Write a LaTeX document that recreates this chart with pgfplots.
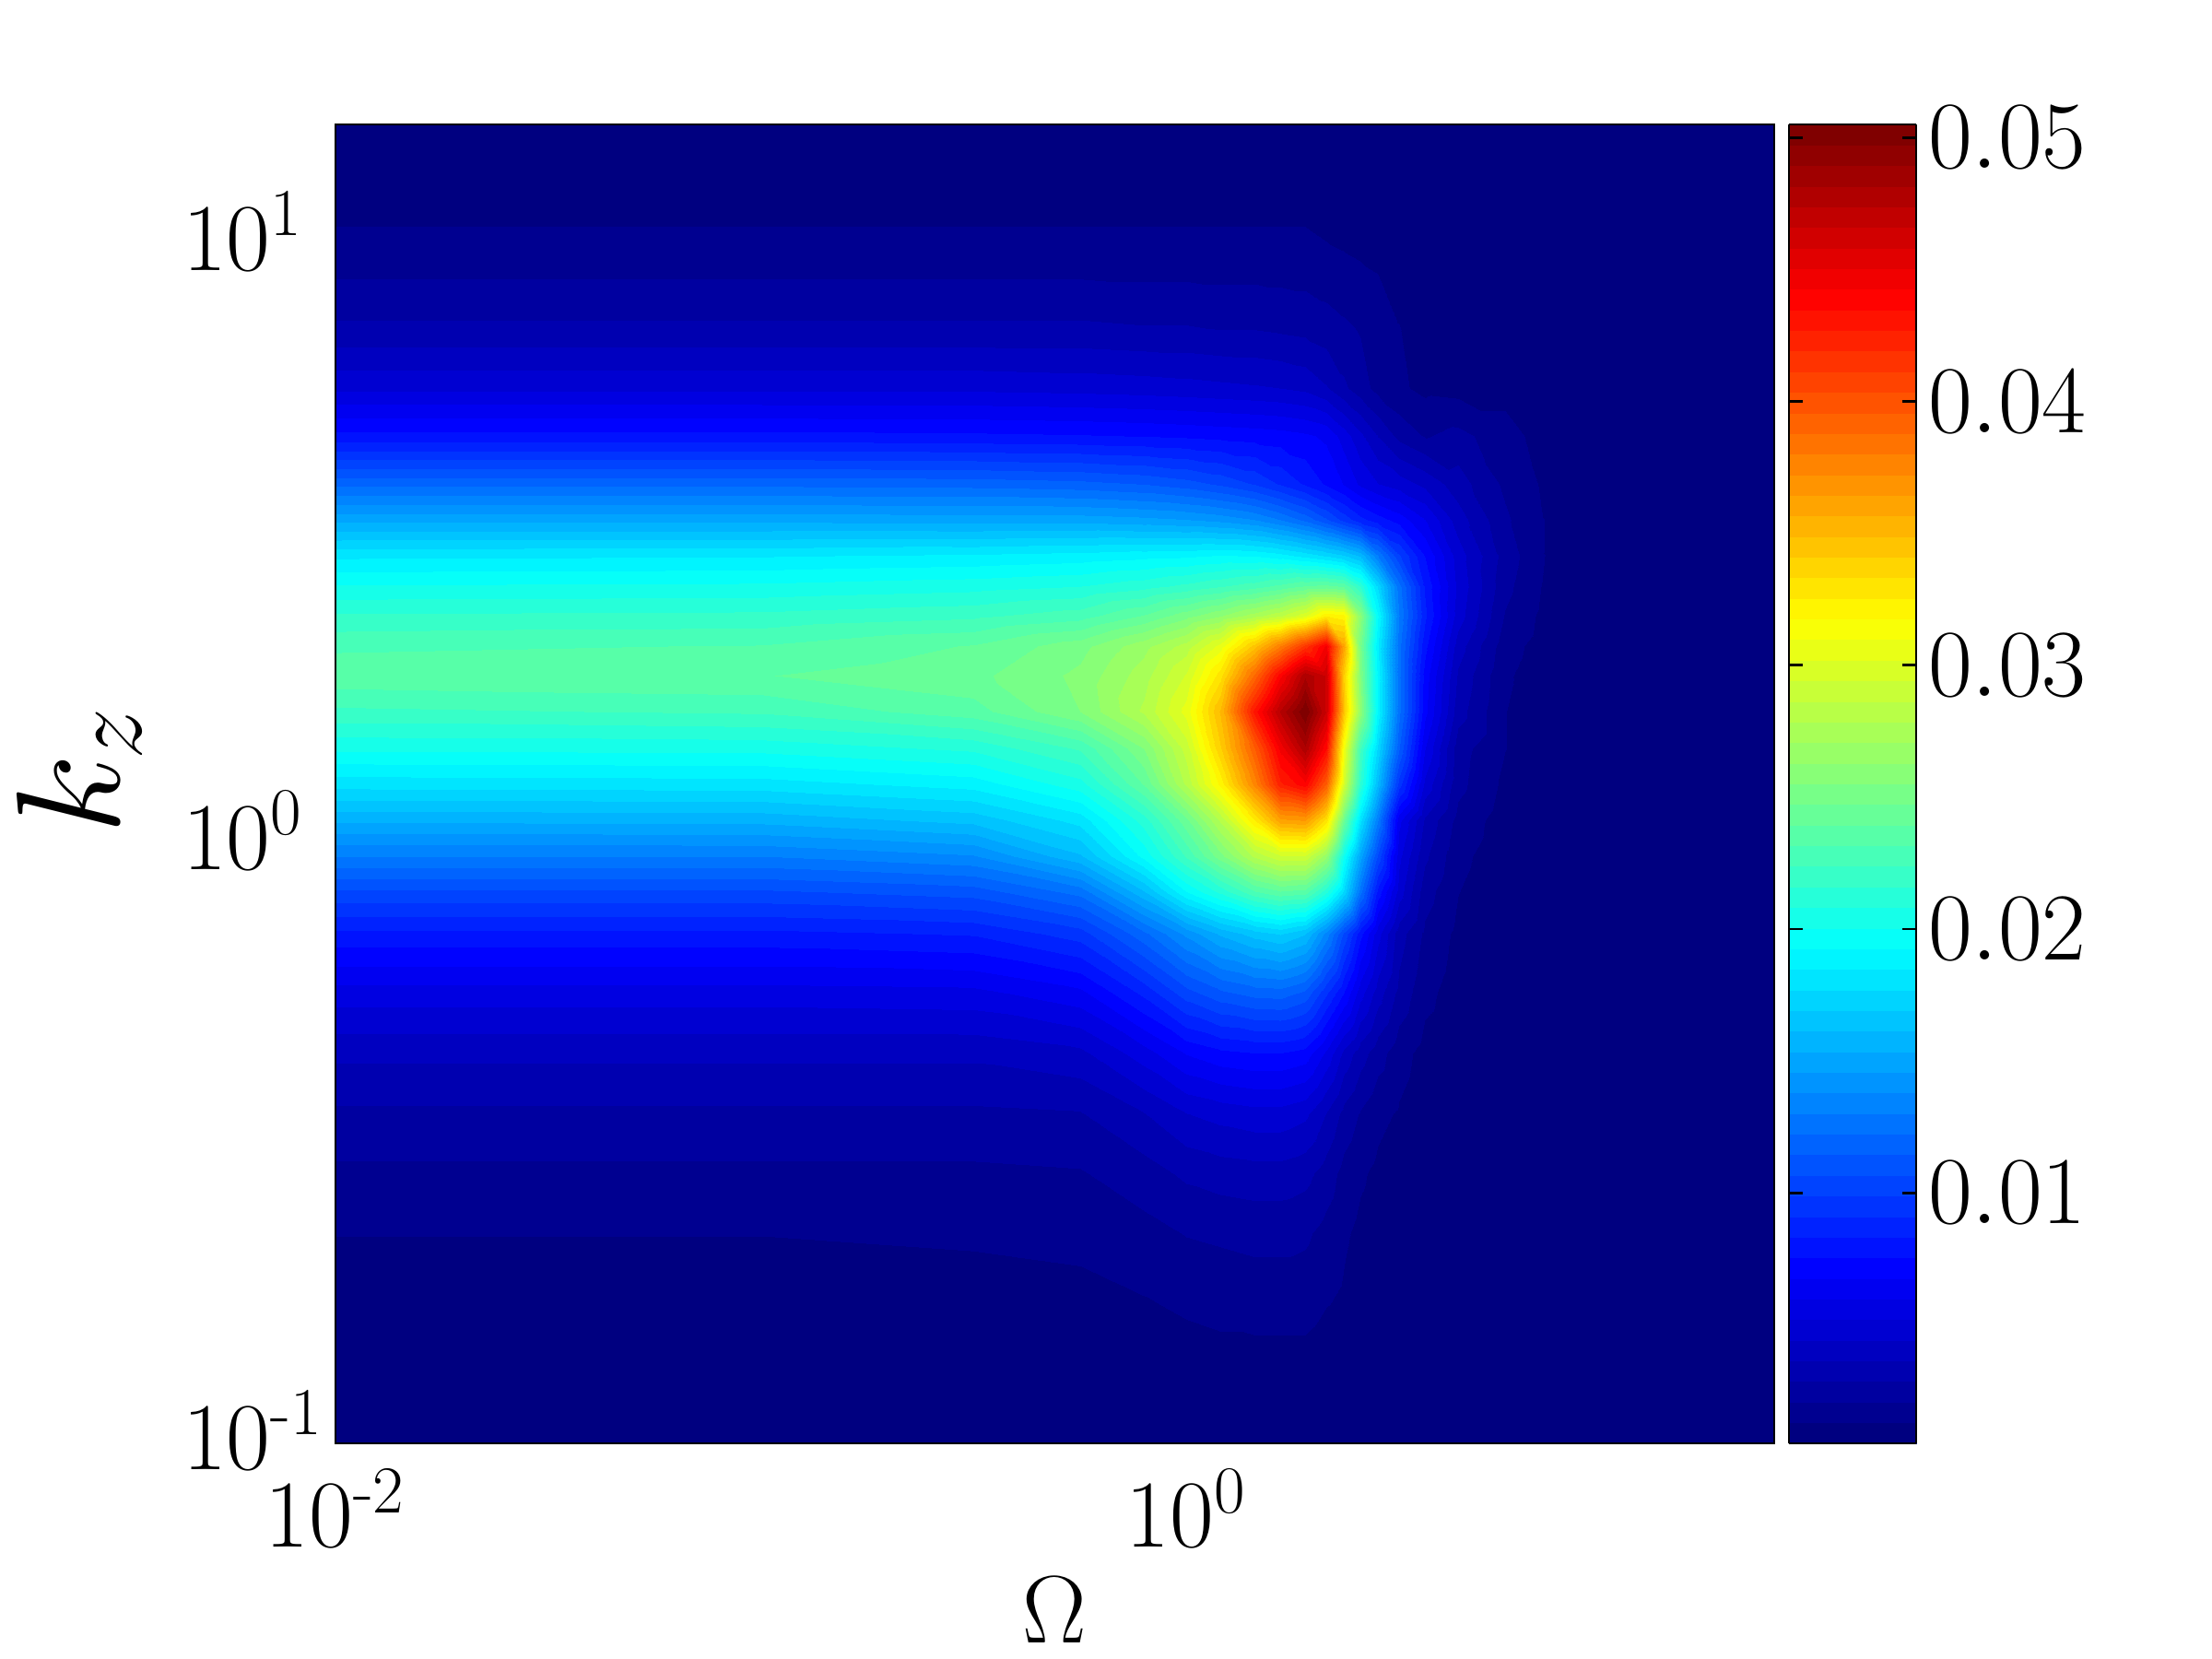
\IfFileExists{fix-cm.sty}{\RequirePackage{fix-cm}}{}
\documentclass[border=0pt]{standalone}
\usepackage{pgfplots}
\pgfplotsset{compat=1.18}
\pgfplotsset{colormap/jet, colormap={jet64}{samples of colormap=(64 of jet)}}
\newcommand\hy{\mbox{\fontsize{18pt}{20pt}\selectfont -}}
\begin{document}
\begin{tikzpicture}
\useasboundingbox (-91pt,-58.5pt) rectangle (509pt,391.5pt);
\begin{axis}[
  at={(0pt,0pt)}, anchor=south west, scale only axis,
  width=390.25pt, height=357.75pt,
  xmode=log, ymode=log,
  xmin=0.01, xmax=24.1, ymin=0.1, ymax=15.85,
  xtick={0.01,1}, xticklabels={$10^{\hy 2}$,$10^{0}$},
  ytick={0.1,1,10}, yticklabels={$10^{\hy 1}$,$10^{0}$,$10^{1}$},
  minor tick num=0, xminorticks=false, yminorticks=false,
  major tick length=0pt,
  axis line style={line width=0.7pt},
  axis on top,
  tick label style={font=\fontsize{26}{31}\selectfont},
  yticklabel style={anchor=base west, xshift=-45pt, yshift=-7pt},
  xticklabel style={yshift=-3.5pt},
  xlabel={$\Omega$}, ylabel={$k_z$},
  xlabel style={font=\fontsize{26}{31}\selectfont, at={(axis description cs:0.5,-0.0915)}, anchor=north},
  ylabel style={font=\fontsize{40}{48}\selectfont, at={(axis description cs:-0.178,0.51)}, anchor=center},
  colormap name=jet64,
  colormap access=piecewise constant,
  point meta min=0.0005, point meta max=0.0505,
  colorbar,
  colorbar style={
    at={(1.0103,1)}, anchor=north west,
    width=34.5pt,
    ytick={0.01,0.02,0.03,0.04,0.05},
    yticklabels={$0.01$,$0.02$,$0.03$,$0.04$,$0.05$},
    scaled y ticks=false,
    ytick pos=both, yticklabel pos=right, ytick align=inside,
    major tick length=3.75pt,
    axis line style={line width=0.7pt},
    tick style={draw=black, line width=0.7pt},
    tick label style={font=\fontsize{26}{31}\selectfont},
    yticklabel style={xshift=-0.3pt},
  },
]
\addplot[surf, shader=interp, mesh/cols=20, mesh/rows=27, point meta=explicit] coordinates {
(0.01,0.1)[0.0005] (0.1,0.1)[0.0005] (0.3162,0.1)[0.0005] (0.5623,0.1)[0.0005] (0.7943,0.1)[0.0005] (1,0.1)[0.0005] (1.2023,0.1)[0.0005] (1.4454,0.1)[0.0005] (1.6596,0.1)[0.0005] (1.9055,0.1)[0.0005] (2.138,0.1)[0.0005] (2.3442,0.1)[0.0005] (2.5704,0.1)[0.0005] (2.8184,0.1)[0.0005] (3.1623,0.1)[0.0005] (3.6308,0.1)[0.0005] (4.3652,0.1)[0.0005] (5.6234,0.1)[0.0005] (7.0795,0.1)[0.0005] (24.547,0.1)[0.0005]
(0.01,0.14125)[0.0008] (0.1,0.14125)[0.0008] (0.3162,0.14125)[0.0008] (0.5623,0.14125)[0.0008] (0.7943,0.14125)[0.0009] (1,0.14125)[0.0010] (1.2023,0.14125)[0.0011] (1.4454,0.14125)[0.0011] (1.6596,0.14125)[0.0011] (1.9055,0.14125)[0.0011] (2.138,0.14125)[0.0009] (2.3442,0.14125)[0.0008] (2.5704,0.14125)[0.0007] (2.8184,0.14125)[0.0006] (3.1623,0.14125)[0.0006] (3.6308,0.14125)[0.0005] (4.3652,0.14125)[0.0005] (5.6234,0.14125)[0.0005] (7.0795,0.14125)[0.0005] (24.547,0.14125)[0.0005]
(0.01,0.17783)[0.0010] (0.1,0.17783)[0.0010] (0.3162,0.17783)[0.0010] (0.5623,0.17783)[0.0011] (0.7943,0.17783)[0.0013] (1,0.17783)[0.0015] (1.2023,0.17783)[0.0016] (1.4454,0.17783)[0.0017] (1.6596,0.17783)[0.0017] (1.9055,0.17783)[0.0017] (2.138,0.17783)[0.0014] (2.3442,0.17783)[0.0012] (2.5704,0.17783)[0.0009] (2.8184,0.17783)[0.0007] (3.1623,0.17783)[0.0006] (3.6308,0.17783)[0.0005] (4.3652,0.17783)[0.0005] (5.6234,0.17783)[0.0005] (7.0795,0.17783)[0.0005] (24.547,0.17783)[0.0005]
(0.01,0.22387)[0.0013] (0.1,0.22387)[0.0013] (0.3162,0.22387)[0.0014] (0.5623,0.22387)[0.0015] (0.7943,0.22387)[0.0018] (1,0.22387)[0.0021] (1.2023,0.22387)[0.0022] (1.4454,0.22387)[0.0023] (1.6596,0.22387)[0.0023] (1.9055,0.22387)[0.0022] (2.138,0.22387)[0.0018] (2.3442,0.22387)[0.0014] (2.5704,0.22387)[0.0011] (2.8184,0.22387)[0.0009] (3.1623,0.22387)[0.0007] (3.6308,0.22387)[0.0006] (4.3652,0.22387)[0.0005] (5.6234,0.22387)[0.0005] (7.0795,0.22387)[0.0005] (24.547,0.22387)[0.0005]
(0.01,0.28184)[0.0019] (0.1,0.28184)[0.0019] (0.3162,0.28184)[0.0019] (0.5623,0.28184)[0.0020] (0.7943,0.28184)[0.0025] (1,0.28184)[0.0030] (1.2023,0.28184)[0.0032] (1.4454,0.28184)[0.0033] (1.6596,0.28184)[0.0033] (1.9055,0.28184)[0.0031] (2.138,0.28184)[0.0025] (2.3442,0.28184)[0.0018] (2.5704,0.28184)[0.0014] (2.8184,0.28184)[0.0011] (3.1623,0.28184)[0.0008] (3.6308,0.28184)[0.0006] (4.3652,0.28184)[0.0005] (5.6234,0.28184)[0.0005] (7.0795,0.28184)[0.0005] (24.547,0.28184)[0.0005]
(0.01,0.35481)[0.0027] (0.1,0.35481)[0.0027] (0.3162,0.35481)[0.0027] (0.5623,0.35481)[0.0028] (0.7943,0.35481)[0.0036] (1,0.35481)[0.0044] (1.2023,0.35481)[0.0047] (1.4454,0.35481)[0.0049] (1.6596,0.35481)[0.0049] (1.9055,0.35481)[0.0046] (2.138,0.35481)[0.0036] (2.3442,0.35481)[0.0026] (2.5704,0.35481)[0.0020] (2.8184,0.35481)[0.0015] (3.1623,0.35481)[0.0012] (3.6308,0.35481)[0.0008] (4.3652,0.35481)[0.0006] (5.6234,0.35481)[0.0005] (7.0795,0.35481)[0.0005] (24.547,0.35481)[0.0005]
(0.01,0.44668)[0.0038] (0.1,0.44668)[0.0038] (0.3162,0.44668)[0.0038] (0.5623,0.44668)[0.0042] (0.7943,0.44668)[0.0056] (1,0.44668)[0.0068] (1.2023,0.44668)[0.0073] (1.4454,0.44668)[0.0075] (1.6596,0.44668)[0.0075] (1.9055,0.44668)[0.0072] (2.138,0.44668)[0.0058] (2.3442,0.44668)[0.0042] (2.5704,0.44668)[0.0032] (2.8184,0.44668)[0.0024] (3.1623,0.44668)[0.0016] (3.6308,0.44668)[0.0010] (4.3652,0.44668)[0.0007] (5.6234,0.44668)[0.0006] (7.0795,0.44668)[0.0005] (24.547,0.44668)[0.0005]
(0.01,0.56234)[0.0056] (0.1,0.56234)[0.0056] (0.3162,0.56234)[0.0057] (0.5623,0.56234)[0.0065] (0.7943,0.56234)[0.0085] (1,0.56234)[0.0103] (1.2023,0.56234)[0.0112] (1.4454,0.56234)[0.0117] (1.6596,0.56234)[0.0118] (1.9055,0.56234)[0.0112] (2.138,0.56234)[0.0092] (2.3442,0.56234)[0.0075] (2.5704,0.56234)[0.0055] (2.8184,0.56234)[0.0040] (3.1623,0.56234)[0.0026] (3.6308,0.56234)[0.0015] (4.3652,0.56234)[0.0009] (5.6234,0.56234)[0.0006] (7.0795,0.56234)[0.0005] (24.547,0.56234)[0.0005]
(0.01,0.70795)[0.0081] (0.1,0.70795)[0.0081] (0.3162,0.70795)[0.0084] (0.5623,0.70795)[0.0095] (0.7943,0.70795)[0.0120] (1,0.70795)[0.0140] (1.2023,0.70795)[0.0155] (1.4454,0.70795)[0.0165] (1.6596,0.70795)[0.0170] (1.9055,0.70795)[0.0162] (2.138,0.70795)[0.0135] (2.3442,0.70795)[0.0105] (2.5704,0.70795)[0.0078] (2.8184,0.70795)[0.0055] (3.1623,0.70795)[0.0032] (3.6308,0.70795)[0.0019] (4.3652,0.70795)[0.0011] (5.6234,0.70795)[0.0006] (7.0795,0.70795)[0.0005] (24.547,0.70795)[0.0005]
(0.01,0.83176)[0.0105] (0.1,0.83176)[0.0105] (0.3162,0.83176)[0.0110] (0.5623,0.83176)[0.0125] (0.7943,0.83176)[0.0160] (1,0.83176)[0.0192] (1.2023,0.83176)[0.0210] (1.4454,0.83176)[0.0230] (1.6596,0.83176)[0.0238] (1.9055,0.83176)[0.0235] (2.138,0.83176)[0.0210] (2.3442,0.83176)[0.0175] (2.5704,0.83176)[0.0125] (2.8184,0.83176)[0.0080] (3.1623,0.83176)[0.0048] (3.6308,0.83176)[0.0024] (4.3652,0.83176)[0.0013] (5.6234,0.83176)[0.0007] (7.0795,0.83176)[0.0006] (24.547,0.83176)[0.0005]
(0.01,0.95499)[0.0130] (0.1,0.95499)[0.0130] (0.3162,0.95499)[0.0137] (0.5623,0.95499)[0.0160] (0.7943,0.95499)[0.0195] (1,0.95499)[0.0225] (1.2023,0.95499)[0.0252] (1.4454,0.95499)[0.0280] (1.6596,0.95499)[0.0293] (1.9055,0.95499)[0.0293] (2.138,0.95499)[0.0265] (2.3442,0.95499)[0.0200] (2.5704,0.95499)[0.0150] (2.8184,0.95499)[0.0105] (3.1623,0.95499)[0.0054] (3.6308,0.95499)[0.0030] (4.3652,0.95499)[0.0015] (5.6234,0.95499)[0.0008] (7.0795,0.95499)[0.0006] (24.547,0.95499)[0.0005]
(0.01,1.0965)[0.0155] (0.1,1.0965)[0.0156] (0.3162,1.0965)[0.0164] (0.5623,1.0965)[0.0180] (0.7943,1.0965)[0.0212] (1,1.0965)[0.0245] (1.2023,1.0965)[0.0280] (1.4454,1.0965)[0.0325] (1.6596,1.0965)[0.0362] (1.9055,1.0965)[0.0365] (2.138,1.0965)[0.0330] (2.3442,1.0965)[0.0245] (2.5704,1.0965)[0.0180] (2.8184,1.0965)[0.0130] (3.1623,1.0965)[0.0062] (3.6308,1.0965)[0.0035] (4.3652,1.0965)[0.0018] (5.6234,1.0965)[0.0009] (7.0795,1.0965)[0.0006] (24.547,1.0965)[0.0005]
(0.01,1.2589)[0.0180] (0.1,1.2589)[0.0181] (0.3162,1.2589)[0.0188] (0.5623,1.2589)[0.0205] (0.7943,1.2589)[0.0240] (1,1.2589)[0.0280] (1.2023,1.2589)[0.0320] (1.4454,1.2589)[0.0375] (1.6596,1.2589)[0.0425] (1.9055,1.2589)[0.0440] (2.138,1.2589)[0.0395] (2.3442,1.2589)[0.0295] (2.5704,1.2589)[0.0215] (2.8184,1.2589)[0.0160] (3.1623,1.2589)[0.0095] (3.6308,1.2589)[0.0050] (4.3652,1.2589)[0.0023] (5.6234,1.2589)[0.0011] (7.0795,1.2589)[0.0007] (24.547,1.2589)[0.0005]
(0.01,1.4454)[0.0202] (0.1,1.4454)[0.0203] (0.3162,1.4454)[0.0210] (0.5623,1.4454)[0.0225] (0.7943,1.4454)[0.0255] (1,1.4454)[0.0290] (1.2023,1.4454)[0.0340] (1.4454,1.4454)[0.0395] (1.6596,1.4454)[0.0445] (1.9055,1.4454)[0.0480] (2.138,1.4454)[0.0435] (2.3442,1.4454)[0.0310] (2.5704,1.4454)[0.0225] (2.8184,1.4454)[0.0175] (3.1623,1.4454)[0.0115] (3.6308,1.4454)[0.0060] (4.3652,1.4454)[0.0024] (5.6234,1.4454)[0.0013] (7.0795,1.4454)[0.0008] (24.547,1.4454)[0.0005]
(0.01,1.6596)[0.0222] (0.1,1.6596)[0.0225] (0.3162,1.6596)[0.0236] (0.5623,1.6596)[0.0255] (0.7943,1.6596)[0.0280] (1,1.6596)[0.0305] (1.2023,1.6596)[0.0350] (1.4454,1.6596)[0.0430] (1.6596,1.6596)[0.0475] (1.9055,1.6596)[0.0505] (2.138,1.6596)[0.0465] (2.3442,1.6596)[0.0345] (2.5704,1.6596)[0.0262] (2.8184,1.6596)[0.0190] (3.1623,1.6596)[0.0125] (3.6308,1.6596)[0.0070] (4.3652,1.6596)[0.0032] (5.6234,1.6596)[0.0013] (7.0795,1.6596)[0.0008] (24.547,1.6596)[0.0005]
(0.01,1.9055)[0.0237] (0.1,1.9055)[0.0239] (0.3162,1.9055)[0.0245] (0.5623,1.9055)[0.0257] (0.7943,1.9055)[0.0275] (1,1.9055)[0.0295] (1.2023,1.9055)[0.0330] (1.4454,1.9055)[0.0390] (1.6596,1.9055)[0.0440] (1.9055,1.9055)[0.0480] (2.138,1.9055)[0.0465] (2.3442,1.9055)[0.0340] (2.5704,1.9055)[0.0255] (2.8184,1.9055)[0.0190] (3.1623,1.9055)[0.0125] (3.6308,1.9055)[0.0072] (4.3652,1.9055)[0.0035] (5.6234,1.9055)[0.0014] (7.0795,1.9055)[0.0008] (24.547,1.9055)[0.0005]
(0.01,2.138)[0.0230] (0.1,2.138)[0.0232] (0.3162,2.138)[0.0240] (0.5623,2.138)[0.0252] (0.7943,2.138)[0.0268] (1,2.138)[0.0282] (1.2023,2.138)[0.0305] (1.4454,2.138)[0.0345] (1.6596,2.138)[0.0380] (1.9055,2.138)[0.0415] (2.138,2.138)[0.0445] (2.3442,2.138)[0.0360] (2.5704,2.138)[0.0250] (2.8184,2.138)[0.0185] (3.1623,2.138)[0.0125] (3.6308,2.138)[0.0078] (4.3652,2.138)[0.0040] (5.6234,2.138)[0.0016] (7.0795,2.138)[0.0009] (24.547,2.138)[0.0005]
(0.01,2.3988)[0.0217] (0.1,2.3988)[0.0218] (0.3162,2.3988)[0.0222] (0.5623,2.3988)[0.0228] (0.7943,2.3988)[0.0240] (1,2.3988)[0.0252] (1.2023,2.3988)[0.0262] (1.4454,2.3988)[0.0275] (1.6596,2.3988)[0.0285] (1.9055,2.3988)[0.0300] (2.138,2.3988)[0.0325] (2.3442,2.3988)[0.0320] (2.5704,2.3988)[0.0260] (2.8184,2.3988)[0.0193] (3.1623,2.3988)[0.0130] (3.6308,2.3988)[0.0085] (4.3652,2.3988)[0.0048] (5.6234,2.3988)[0.0020] (7.0795,2.3988)[0.0010] (24.547,2.3988)[0.0005]
(0.01,2.6915)[0.0201] (0.1,2.6915)[0.0202] (0.3162,2.6915)[0.0205] (0.5623,2.6915)[0.0208] (0.7943,2.6915)[0.0213] (1,2.6915)[0.0218] (1.2023,2.6915)[0.0223] (1.4454,2.6915)[0.0228] (1.6596,2.6915)[0.0234] (1.9055,2.6915)[0.0240] (2.138,2.6915)[0.0242] (2.3442,2.6915)[0.0238] (2.5704,2.6915)[0.0215] (2.8184,2.6915)[0.0175] (3.1623,2.6915)[0.0125] (3.6308,2.6915)[0.0082] (4.3652,2.6915)[0.0050] (5.6234,2.6915)[0.0023] (7.0795,2.6915)[0.0011] (24.547,2.6915)[0.0005]
(0.01,3.02)[0.0183] (0.1,3.02)[0.0184] (0.3162,3.02)[0.0186] (0.5623,3.02)[0.0188] (0.7943,3.02)[0.0190] (1,3.02)[0.0191] (1.2023,3.02)[0.0193] (1.4454,3.02)[0.0192] (1.6596,3.02)[0.0188] (1.9055,3.02)[0.0182] (2.138,3.02)[0.0176] (2.3442,3.02)[0.0170] (2.5704,3.02)[0.0160] (2.8184,3.02)[0.0130] (3.1623,3.02)[0.0100] (3.6308,3.02)[0.0075] (4.3652,3.02)[0.0048] (5.6234,3.02)[0.0025] (7.0795,3.02)[0.0012] (24.547,3.02)[0.0005]
(0.01,3.4674)[0.0151] (0.1,3.4674)[0.0151] (0.3162,3.4674)[0.0150] (0.5623,3.4674)[0.0150] (0.7943,3.4674)[0.0148] (1,3.4674)[0.0146] (1.2023,3.4674)[0.0143] (1.4454,3.4674)[0.0138] (1.6596,3.4674)[0.0130] (1.9055,3.4674)[0.0120] (2.138,3.4674)[0.0108] (2.3442,3.4674)[0.0096] (2.5704,3.4674)[0.0086] (2.8184,3.4674)[0.0079] (3.1623,3.4674)[0.0072] (3.6308,3.4674)[0.0060] (4.3652,3.4674)[0.0040] (5.6234,3.4674)[0.0022] (7.0795,3.4674)[0.0012] (24.547,3.4674)[0.0005]
(0.01,3.9811)[0.0120] (0.1,3.9811)[0.0120] (0.3162,3.9811)[0.0119] (0.5623,3.9811)[0.0117] (0.7943,3.9811)[0.0114] (1,3.9811)[0.0110] (1.2023,3.9811)[0.0105] (1.4454,3.9811)[0.0098] (1.6596,3.9811)[0.0090] (1.9055,3.9811)[0.0082] (2.138,3.9811)[0.0074] (2.3442,3.9811)[0.0067] (2.5704,3.9811)[0.0058] (2.8184,3.9811)[0.0052] (3.1623,3.9811)[0.0048] (3.6308,3.9811)[0.0042] (4.3652,3.9811)[0.0032] (5.6234,3.9811)[0.0019] (7.0795,3.9811)[0.0011] (24.547,3.9811)[0.0005]
(0.01,4.7863)[0.0078] (0.1,4.7863)[0.0078] (0.3162,4.7863)[0.0077] (0.5623,4.7863)[0.0076] (0.7943,4.7863)[0.0075] (1,4.7863)[0.0074] (1.2023,4.7863)[0.0073] (1.4454,4.7863)[0.0072] (1.6596,4.7863)[0.0071] (1.9055,4.7863)[0.0069] (2.138,4.7863)[0.0066] (2.3442,4.7863)[0.0056] (2.5704,4.7863)[0.0046] (2.8184,4.7863)[0.0036] (3.1623,4.7863)[0.0026] (3.6308,4.7863)[0.0020] (4.3652,4.7863)[0.0023] (5.6234,4.7863)[0.0016] (7.0795,4.7863)[0.0009] (24.547,4.7863)[0.0005]
(0.01,5.7544)[0.0050] (0.1,5.7544)[0.0050] (0.3162,5.7544)[0.0050] (0.5623,5.7544)[0.0049] (0.7943,5.7544)[0.0048] (1,5.7544)[0.0047] (1.2023,5.7544)[0.0046] (1.4454,5.7544)[0.0045] (1.6596,5.7544)[0.0044] (1.9055,5.7544)[0.0042] (2.138,5.7544)[0.0037] (2.3442,5.7544)[0.0030] (2.5704,5.7544)[0.0024] (2.8184,5.7544)[0.0018] (3.1623,5.7544)[0.0014] (3.6308,5.7544)[0.0011] (4.3652,5.7544)[0.0010] (5.6234,5.7544)[0.0010] (7.0795,5.7544)[0.0008] (24.547,5.7544)[0.0005]
(0.01,7.2444)[0.0030] (0.1,7.2444)[0.0030] (0.3162,7.2444)[0.0030] (0.5623,7.2444)[0.0030] (0.7943,7.2444)[0.0029] (1,7.2444)[0.0029] (1.2023,7.2444)[0.0028] (1.4454,7.2444)[0.0028] (1.6596,7.2444)[0.0027] (1.9055,7.2444)[0.0026] (2.138,7.2444)[0.0024] (2.3442,7.2444)[0.0022] (2.5704,7.2444)[0.0020] (2.8184,7.2444)[0.0018] (3.1623,7.2444)[0.0013] (3.6308,7.2444)[0.0010] (4.3652,7.2444)[0.0008] (5.6234,7.2444)[0.0007] (7.0795,7.2444)[0.0006] (24.547,7.2444)[0.0005]
(0.01,10)[0.0014] (0.1,10)[0.0014] (0.3162,10)[0.0014] (0.5623,10)[0.0014] (0.7943,10)[0.0014] (1,10)[0.0014] (1.2023,10)[0.0014] (1.4454,10)[0.0014] (1.6596,10)[0.0014] (1.9055,10)[0.0014] (2.138,10)[0.0013] (2.3442,10)[0.0012] (2.5704,10)[0.0011] (2.8184,10)[0.0010] (3.1623,10)[0.0009] (3.6308,10)[0.0008] (4.3652,10)[0.0007] (5.6234,10)[0.0006] (7.0795,10)[0.0006] (24.547,10)[0.0005]
(0.01,15.849)[0.0006] (0.1,15.849)[0.0006] (0.3162,15.849)[0.0006] (0.5623,15.849)[0.0006] (0.7943,15.849)[0.0006] (1,15.849)[0.0006] (1.2023,15.849)[0.0006] (1.4454,15.849)[0.0006] (1.6596,15.849)[0.0006] (1.9055,15.849)[0.0006] (2.138,15.849)[0.0006] (2.3442,15.849)[0.0006] (2.5704,15.849)[0.0006] (2.8184,15.849)[0.0006] (3.1623,15.849)[0.0006] (3.6308,15.849)[0.0006] (4.3652,15.849)[0.0005] (5.6234,15.849)[0.0005] (7.0795,15.849)[0.0005] (24.547,15.849)[0.0005]
};
\end{axis}
\end{tikzpicture}
\end{document}
